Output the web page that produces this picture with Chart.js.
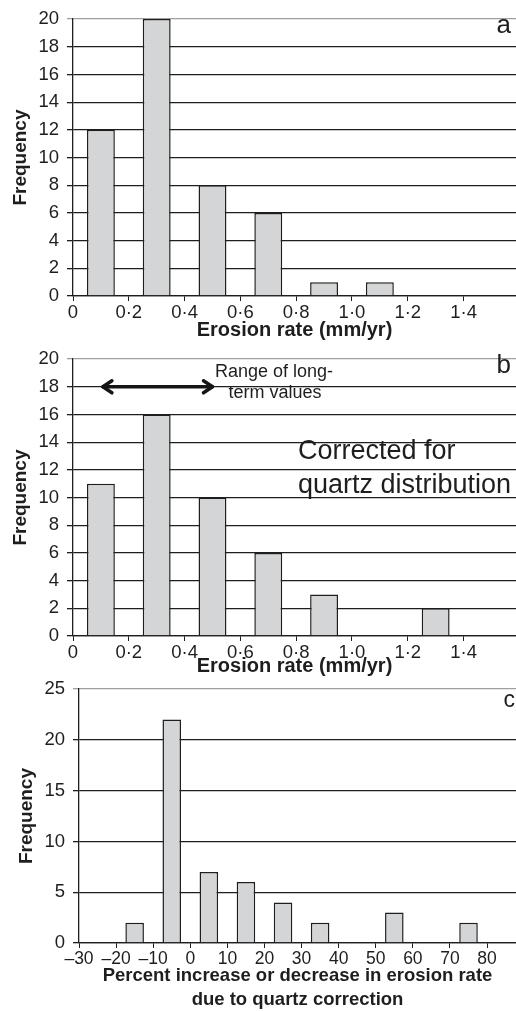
<!DOCTYPE html>
<html>
<head>
<meta charset="utf-8">
<script src="https://cdn.jsdelivr.net/npm/chart.js@4.4.1/dist/chart.umd.min.js"></script>
<style>
  body { margin: 0; background: #fff; }
  .panel { position: absolute; left: 0; }
  canvas { display: block; }
</style>
</head>
<body>
<div class="panel" style="top:0"><canvas id="chartA" width="516" height="340"></canvas></div>
<div class="panel" style="top:340px"><canvas id="chartB" width="516" height="336"></canvas></div>
<div class="panel" style="top:670px"><canvas id="chartC" width="516" height="341"></canvas></div>
<script>
// ---- data ----
const ratesA = [0.1, 0.3, 0.5, 0.7, 0.9, 1.1];
const freqA = [12, 20, 8, 6, 1, 1];

const ratesB = [0.1, 0.3, 0.5, 0.7, 0.9, 1.3];
const freqB = [11, 16, 10, 6, 3, 2];

const pctC = [-15, -5, 5, 15, 25, 35, 55, 75];
const freqC = [2, 22, 7, 6, 4, 2, 3, 2];

const rateTicks = [0, 0.2, 0.4, 0.6, 0.8, 1.0, 1.2, 1.4];
const pctTicks = [-30, -20, -10, 0, 10, 20, 30, 40, 50, 60, 70, 80];

const longTermRange = [0.1, 0.5];
const longTermLevel = 18;

// ---- shared styling ----
const FONT = "'Liberation Sans', Arial, sans-serif";
const barFill = "#d4d5d6";
const barEdge = "#1e1e1e";

function toPoints(xs, ys) {
  return xs.map((x, i) => ({ x: x, y: ys[i] }));
}

function rateLabel(v) {
  return v === 0 ? "0" : v.toFixed(1).replace(".", "\u00b7");
}

function pctLabel(v) {
  return v < 0 ? "\u2013" + Math.abs(v) : String(v);
}

function buildOptions(cfg) {
  return {
    responsive: false,
    animation: false,
    layout: { padding: { top: cfg.top, right: 0, left: 0, bottom: 0 } },
    plugins: { legend: { display: false }, tooltip: { enabled: false } },
    scales: {
      x: {
        type: "linear",
        min: cfg.xMin,
        max: cfg.xMax,
        offset: false,
        afterFit: (s) => { s.height = cfg.xHeight; },
        afterBuildTicks: (s) => { s.ticks = cfg.xTicks.map((v) => ({ value: v })); },
        grid: { offset: false, drawOnChartArea: false, drawTicks: true, tickLength: 5, color: "#1e1e1e" },
        border: { color: "#1e1e1e", width: 1.3 },
        ticks: {
          callback: cfg.xLabel,
          autoSkip: false,
          maxRotation: 0,
          padding: 1,
          color: "#1e1e1e",
          font: { family: FONT, size: cfg.xTickSize }
        },
        title: {
          display: true,
          text: cfg.xTitle,
          color: "#1e1e1e",
          font: { family: FONT, size: cfg.xTitleSize, weight: "bold", lineHeight: cfg.xTitleLH },
          padding: { top: 0, bottom: 0 }
        }
      },
      y: {
        min: 0,
        max: cfg.yMax,
        afterFit: (s) => { s.width = cfg.yWidth; },
        ticks: {
          stepSize: cfg.yStep,
          padding: 8,
          color: "#1e1e1e",
          font: { family: FONT, size: 18.5 }
        },
        grid: {
          tickLength: 6,
          lineWidth: 1.3,
          color: (ctx) => (ctx.tick && ctx.tick.value === cfg.yMax ? "#a0a0a0" : "#1e1e1e")
        },
        border: { color: "#1e1e1e", width: 1.3 },
        title: {
          display: true,
          text: "Frequency",
          color: "#1e1e1e",
          font: { family: FONT, size: 19, weight: "bold", lineHeight: 1.2 },
          padding: { top: cfg.yTitlePad, bottom: 0 }
        }
      }
    }
  };
}

function barDataset(xs, ys) {
  return {
    data: toPoints(xs, ys),
    backgroundColor: barFill,
    borderColor: barEdge,
    borderWidth: 1.5,
    barPercentage: 0.5,
    categoryPercentage: 1.0
  };
}

// panel letters and notes
function notesPlugin(notes) {
  return {
    id: "notes",
    afterDraw(chart) {
      const ctx = chart.ctx;
      ctx.save();
      ctx.fillStyle = "#1e1e1e";
      ctx.textBaseline = "middle";
      notes.forEach((n) => {
        ctx.font = n.size + "px " + FONT;
        ctx.textAlign = n.align || "left";
        ctx.fillText(n.text, n.x, n.y);
      });
      ctx.restore();
    }
  };
}

const rangeArrow = {
  id: "rangeArrow",
  afterDraw(chart) {
    const xs = chart.scales.x;
    const ys = chart.scales.y;
    const x1 = xs.getPixelForValue(longTermRange[0]);
    const x2 = xs.getPixelForValue(longTermRange[1]);
    const y = ys.getPixelForValue(longTermLevel);
    const ctx = chart.ctx;
    ctx.save();
    ctx.strokeStyle = "#151515";
    ctx.lineWidth = 3.5;
    ctx.lineCap = "round";
    ctx.lineJoin = "round";
    ctx.beginPath();
    ctx.moveTo(x1 + 2, y);
    ctx.lineTo(x2, y);
    ctx.stroke();
    ctx.beginPath();
    ctx.moveTo(x1 + 11, y - 6);
    ctx.lineTo(x1 + 2, y);
    ctx.lineTo(x1 + 11, y + 6);
    ctx.moveTo(x2 - 9, y - 6);
    ctx.lineTo(x2, y);
    ctx.lineTo(x2 - 9, y + 6);
    ctx.stroke();
    ctx.restore();
  }
};

// ---- panel a ----
new Chart(document.getElementById("chartA"), {
  type: "bar",
  data: { datasets: [barDataset(ratesA, freqA)] },
  options: buildOptions({
    top: 12, xMin: 0, xMax: 1.588, xHeight: 44, xTicks: rateTicks, xLabel: rateLabel,
    xTickSize: 18.5, xTitle: "Erosion rate (mm/yr)", xTitleSize: 20, xTitleLH: 1.0,
    yMax: 20, yStep: 2, yWidth: 73, yTitlePad: 9
  }),
  plugins: [notesPlugin([{ text: "a", x: 511, y: 26, size: 26, align: "right" }])]
});

// ---- panel b ----
new Chart(document.getElementById("chartB"), {
  type: "bar",
  data: { datasets: [barDataset(ratesB, freqB)] },
  options: buildOptions({
    top: 12, xMin: 0, xMax: 1.588, xHeight: 40, xTicks: rateTicks, xLabel: rateLabel,
    xTickSize: 18.5, xTitle: "Erosion rate (mm/yr)", xTitleSize: 20, xTitleLH: 1.0,
    yMax: 20, yStep: 2, yWidth: 73, yTitlePad: 9
  }),
  plugins: [
    rangeArrow,
    notesPlugin([
      { text: "b", x: 511, y: 26, size: 26, align: "right" },
      { text: "Range of long-", x: 274, y: 32, size: 18, align: "center" },
      { text: "term values", x: 275, y: 53, size: 18, align: "center" },
      { text: "Corrected for", x: 298, y: 112, size: 27 },
      { text: "quartz distribution", x: 298, y: 146, size: 27 }
    ])
  ]
});

// ---- panel c ----
new Chart(document.getElementById("chartC"), {
  type: "bar",
  data: { datasets: [barDataset(pctC, freqC)] },
  options: buildOptions({
    top: 14, xMin: -30, xMax: 87.8, xHeight: 68, xTicks: pctTicks, xLabel: pctLabel,
    xTickSize: 17.5, xTitle: ["Percent increase or decrease in erosion rate", "due to quartz correction"],
    xTitleSize: 18.5, xTitleLH: 1.25,
    yMax: 25, yStep: 5, yWidth: 79, yTitlePad: 15
  }),
  plugins: [notesPlugin([{ text: "c", x: 515, y: 31, size: 23, align: "right" }])]
});
</script>
</body>
</html>
